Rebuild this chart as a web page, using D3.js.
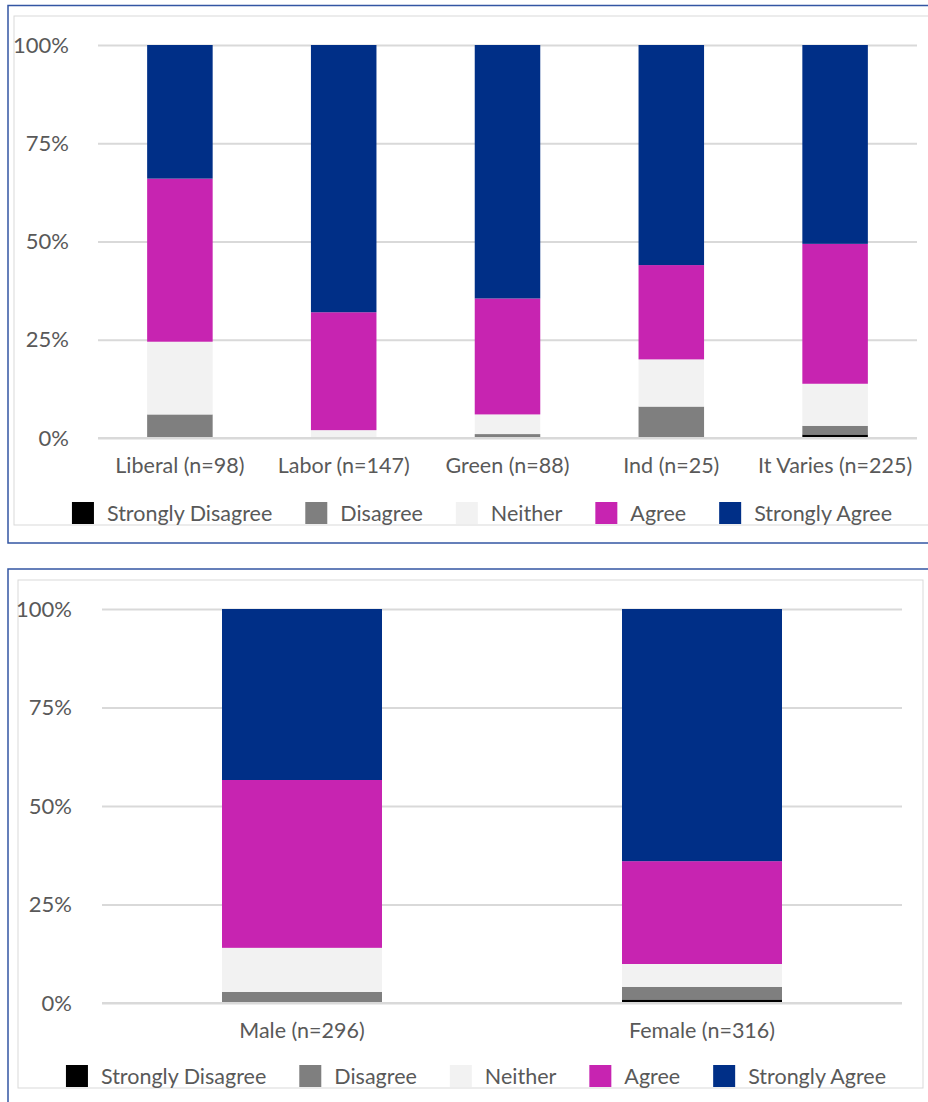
<!DOCTYPE html>
<html>
<head>
<meta charset="utf-8">
<script src="https://cdn.jsdelivr.net/npm/d3@7"></script>
<style>
  body { margin: 0; background: #fff; }
  svg { display: block; }
  text { font-family: Lato, "Open Sans", sans-serif; fill: #595959; }
  .grid line { stroke: #d9d9d9; stroke-width: 2px; }
  .grid .domain { display: none; }
</style>
</head>
<body>
<div id="chart"></div>
<script>
// answer levels, bottom to top
const levels = ["Strongly Disagree", "Disagree", "Neither", "Agree", "Strongly Agree"];
const levelColors = ["#000000", "#7f7f7f", "#f2f2f2", "#c724b1", "#002f87"];

const yTicks = [0, 25, 50, 75, 100];
const yTickLabels = ["0%", "25%", "50%", "75%", "100%"];

// panel 1 - by party
const partyCategories = ["Liberal (n=98)", "Labor (n=147)", "Green (n=88)", "Ind (n=25)", "It Varies (n=225)"];
const partyStronglyDisagree = [0, 0, 0, 0, 0.9];
const partyDisagree = [6, 0, 1, 8, 2.2];
const partyNeither = [18.5, 2, 5, 12, 10.7];
const partyAgree = [41.5, 30, 29.5, 24, 35.6];
const partyStronglyAgree = [34, 68, 64.5, 56, 50.6];

// panel 2 - by gender
const genderCategories = ["Male (n=296)", "Female (n=316)"];
const genderStronglyDisagree = [0, 0.9];
const genderDisagree = [2.8, 3.2];
const genderNeither = [11.2, 5.8];
const genderAgree = [42.6, 26.1];
const genderStronglyAgree = [43.4, 64.0];

const svg = d3.select('#chart').append('svg')
    .attr('width', 928)
    .attr('height', 1102);

function drawPanel(opts) {
    const g = svg.append('g');

    // frames
    g.append('rect')
        .attr('x', opts.outer[0]).attr('y', opts.outer[1])
        .attr('width', opts.outer[2]).attr('height', opts.outer[3])
        .attr('fill', 'none').attr('stroke', '#3356a3').attr('stroke-width', 1.5);
    g.append('rect')
        .attr('x', opts.inner[0]).attr('y', opts.inner[1])
        .attr('width', opts.inner[2]).attr('height', opts.inner[3])
        .attr('fill', 'none').attr('stroke', '#d9d9d9').attr('stroke-width', 1);

    const x = d3.scaleBand()
        .domain(opts.categories)
        .range([opts.left, opts.right])
        .paddingInner(0.6)
        .paddingOuter(0.3);
    const y = d3.scaleLinear().domain([0, 100]).range([opts.bottom, opts.top]);

    // gridlines + y labels
    const yAxis = d3.axisLeft(y)
        .tickValues(yTicks)
        .tickFormat((d, i) => yTickLabels[i])
        .tickSize(-(opts.right - opts.left))
        .tickPadding(opts.yPad);
    g.append('g')
        .attr('class', 'grid')
        .attr('transform', 'translate(' + opts.left + ',0)')
        .call(yAxis)
        .selectAll('text')
        .style('font-size', '22px')
        .attr('fill', '#595959');

    // build table for the stack
    const table = opts.categories.map((c, i) => {
        const row = { cat: c };
        levels.forEach((l, j) => row[l] = opts.series[j][i]);
        return row;
    });
    const stacked = d3.stack().keys(levels)(table);

    g.append('g')
        .selectAll('g')
        .data(stacked)
        .enter()
        .append('g')
        .attr('fill', (d, i) => levelColors[i])
        .selectAll('rect')
        .data(d => d)
        .enter()
        .append('rect')
        .attr('x', d => x(d.data.cat))
        .attr('width', x.bandwidth())
        .attr('y', d => y(d[1]))
        .attr('height', d => y(d[0]) - y(d[1]));

    // redraw zero line over bars
    g.append('line')
        .attr('x1', opts.left).attr('x2', opts.right)
        .attr('y1', y(0)).attr('y2', y(0))
        .attr('stroke', '#d9d9d9').attr('stroke-width', 2);

    // category labels
    const xAxis = d3.axisBottom(x).tickSize(0).tickPadding(opts.xPad);
    const xg = g.append('g')
        .attr('transform', 'translate(0,' + opts.bottom + ')')
        .call(xAxis);
    xg.select('.domain').remove();
    xg.selectAll('text').style('font-size', '21.5px').attr('fill', '#595959');

    // legend
    const sq = 22, gap = 13, spacing = 33;
    const lg = g.append('g');
    const items = lg.selectAll('g')
        .data(levels)
        .enter()
        .append('g');
    items.append('rect')
        .attr('width', sq).attr('height', sq)
        .attr('y', -sq / 2)
        .attr('fill', (d, i) => levelColors[i]);
    items.append('text')
        .text(d => d)
        .attr('x', sq + gap)
        .attr('dy', '0.36em')
        .style('font-size', '21.5px');

    let widths = [];
    items.each(function () {
        widths.push(sq + gap + d3.select(this).select('text').node().getComputedTextLength());
    });
    const total = d3.sum(widths) + spacing * (widths.length - 1);
    let cursor = opts.legendCx - total / 2;
    items.attr('transform', (d, i) => {
        const tx = cursor;
        cursor += widths[i] + spacing;
        return 'translate(' + tx + ',' + opts.legendY + ')';
    });
}

drawPanel({
    categories: partyCategories,
    series: [partyStronglyDisagree, partyDisagree, partyNeither, partyAgree, partyStronglyAgree],
    left: 98, right: 917, top: 45, bottom: 438,
    yPad: 29, xPad: 20,
    legendCx: 482, legendY: 513,
    outer: [8, 5.5, 940, 537.5],
    inner: [14, 16, 930, 509]
});

drawPanel({
    categories: genderCategories,
    series: [genderStronglyDisagree, genderDisagree, genderNeither, genderAgree, genderStronglyAgree],
    left: 102, right: 902, top: 609, bottom: 1003,
    yPad: 30, xPad: 20,
    legendCx: 476, legendY: 1076,
    outer: [8, 569, 940, 560],
    inner: [18, 580, 905, 508]
});
</script>
</body>
</html>
